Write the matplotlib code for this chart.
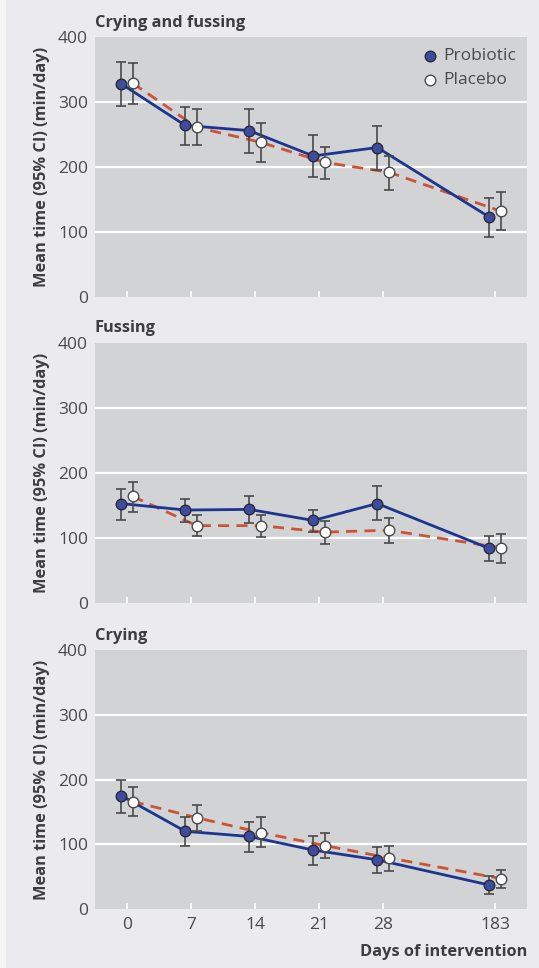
import matplotlib
matplotlib.use("Agg")
import matplotlib.pyplot as plt
from matplotlib.patches import Rectangle
import numpy as np

# Days of intervention and categorical positions (last point set further apart)
days = ["0", "7", "14", "21", "28", "183"]
positions = [0, 1, 2, 3, 4, 5.75]

panel_titles = ["Crying and fussing", "Fussing", "Crying"]

# Crying and fussing (min/day): mean, lower CI, upper CI
cf_probiotic = [328, 264, 256, 217, 230, 123]
cf_probiotic_lo = [294, 234, 222, 185, 196, 93]
cf_probiotic_hi = [362, 293, 290, 250, 263, 152]
cf_placebo = [329, 261, 238, 207, 192, 132]
cf_placebo_lo = [297, 234, 208, 182, 165, 103]
cf_placebo_hi = [360, 289, 268, 231, 217, 161]

# Fussing
fu_probiotic = [153, 143, 144, 127, 153, 84]
fu_probiotic_lo = [128, 124, 123, 110, 127, 64]
fu_probiotic_hi = [176, 160, 165, 143, 180, 103]
fu_placebo = [164, 119, 119, 109, 112, 85]
fu_placebo_lo = [140, 103, 101, 91, 92, 62]
fu_placebo_hi = [186, 136, 136, 126, 131, 106]

# Crying
cr_probiotic = [175, 120, 112, 91, 76, 37]
cr_probiotic_lo = [149, 98, 88, 68, 56, 23]
cr_probiotic_hi = [200, 142, 135, 113, 95, 51]
cr_placebo = [166, 141, 118, 98, 79, 47]
cr_placebo_lo = [144, 121, 95, 78, 59, 32]
cr_placebo_hi = [188, 161, 142, 117, 98, 61]

panels = [
    (cf_probiotic, cf_probiotic_lo, cf_probiotic_hi, cf_placebo, cf_placebo_lo, cf_placebo_hi),
    (fu_probiotic, fu_probiotic_lo, fu_probiotic_hi, fu_placebo, fu_placebo_lo, fu_placebo_hi),
    (cr_probiotic, cr_probiotic_lo, cr_probiotic_hi, cr_placebo, cr_placebo_lo, cr_placebo_hi),
]

yticks = [0, 100, 200, 300, 400]

FONT = ["Open Sans", "DejaVu Sans"]
fig_bg = "#ebebed"
ax_bg = "#d2d3d5"
text_col = "#3d3d3f"
tick_col = "#4a4a4c"
blue_line = "#1c3591"
blue_fill = "#3d4c9e"
red_line = "#cc5436"
err_col = "#4a4a4a"

W, H = 539, 968
fig = plt.figure(figsize=(W / 100, H / 100), dpi=100, facecolor=fig_bg)
fig.patches.append(Rectangle((0, 0), 6 / W, 1, transform=fig.transFigure,
                             facecolor="#f6f6f6", edgecolor="none", zorder=0))

# axes boxes in pixel coordinates: (left, top, right, bottom)
boxes = [(95, 37, 527, 297), (95, 343, 527, 603), (95, 650, 527, 909)]
offset = 0.09

for i, (box, data) in enumerate(zip(boxes, panels)):
    l, t, r, b = box
    ax = fig.add_axes([l / W, 1 - b / H, (r - l) / W, (b - t) / H])
    ax.set_facecolor(ax_bg)
    for s in ax.spines.values():
        s.set_visible(False)
    ax.set_xlim(-0.5, 6.25)
    ax.set_ylim(0, 400)
    ax.set_yticks(yticks)
    ax.set_xticks(positions)
    for y in [100, 200, 300]:
        ax.axhline(y, color="white", lw=1.6, zorder=1)
    ax.tick_params(axis="y", length=0, pad=5, labelsize=12.5, labelcolor=tick_col)
    ax.tick_params(axis="x", direction="in", length=4, width=1.2, color="white",
                   labelsize=12.5, labelcolor=tick_col, pad=6)
    ax.set_yticklabels([str(v) for v in yticks], family=FONT)
    if i == 2:
        ax.set_xticklabels(days, family=FONT)
    else:
        ax.set_xticklabels([])

    pm, plo, phi, qm, qlo, qhi = data
    xp = np.array(positions) - offset
    xq = np.array(positions) + offset

    ax.plot(xq, qm, color=red_line, lw=2.0, ls=(0, (4, 2.6)), zorder=2)
    ax.plot(xp, pm, color=blue_line, lw=2.0, zorder=3)

    ax.errorbar(xp, pm, yerr=[np.array(pm) - np.array(plo), np.array(phi) - np.array(pm)],
                fmt="none", ecolor=err_col, elinewidth=1.2, capsize=3.5, capthick=1.2, zorder=4)
    ax.errorbar(xq, qm, yerr=[np.array(qm) - np.array(qlo), np.array(qhi) - np.array(qm)],
                fmt="none", ecolor=err_col, elinewidth=1.2, capsize=3.5, capthick=1.2, zorder=4)

    ax.scatter(xp, pm, s=58, facecolor=blue_fill, edgecolor="#2a2a3a", lw=1.0, zorder=5,
               label="Probiotic")
    ax.scatter(xq, qm, s=58, facecolor="white", edgecolor="#4a4a4a", lw=1.0, zorder=5,
               label="Placebo")

    ax.text(0, 1.025, panel_titles[i], transform=ax.transAxes, ha="left", va="bottom",
            fontsize=11.8, fontweight="bold", color=text_col, family=FONT)
    ax.set_ylabel("Mean time (95% CI) (min/day)", fontsize=11.8, fontweight="bold",
                  color=text_col, family=FONT, labelpad=6)

    if i == 0:
        leg = ax.legend(loc="upper right", frameon=False, handletextpad=0.25,
                        borderaxespad=0.25, labelspacing=0.45, handlelength=1.0,
                        prop={"family": FONT, "size": 12.5})
        for txt in leg.get_texts():
            txt.set_color(tick_col)
    if i == 2:
        ax.set_xlabel("Days of intervention", fontsize=11.8, fontweight="bold",
                      color=text_col, family=FONT, loc="right", labelpad=8)

fig.savefig("out.png", dpi=100, facecolor=fig_bg)
